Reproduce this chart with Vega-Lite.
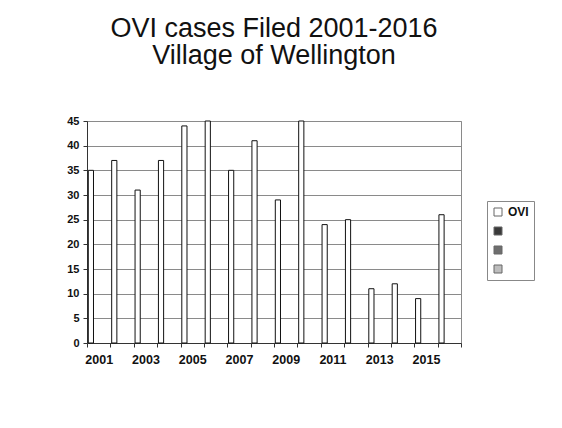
{
  "$schema": "https://vega.github.io/schema/vega-lite/v6.json",
  "width": 374,
  "height": 222,
  "autosize": {"type": "none"},
  "padding": {"left": 87, "top": 121, "right": 101, "bottom": 85},
  "background": "white",
  "title": {
    "text": ["OVI cases Filed 2001-2016", "Village of Wellington"],
    "font": "Liberation Sans",
    "fontSize": 27,
    "fontWeight": "normal",
    "color": "#111",
    "lineHeight": 27,
    "anchor": "middle",
    "frame": "group",
    "offset": 45
  },
  "data": {
    "values": [
      {"year": 2001, "series": "OVI", "cases": 35},
      {"year": 2002, "series": "OVI", "cases": 37},
      {"year": 2003, "series": "OVI", "cases": 31},
      {"year": 2004, "series": "OVI", "cases": 37},
      {"year": 2005, "series": "OVI", "cases": 44},
      {"year": 2006, "series": "OVI", "cases": 45},
      {"year": 2007, "series": "OVI", "cases": 35},
      {"year": 2008, "series": "OVI", "cases": 41},
      {"year": 2009, "series": "OVI", "cases": 29},
      {"year": 2010, "series": "OVI", "cases": 45},
      {"year": 2011, "series": "OVI", "cases": 24},
      {"year": 2012, "series": "OVI", "cases": 25},
      {"year": 2013, "series": "OVI", "cases": 11},
      {"year": 2014, "series": "OVI", "cases": 12},
      {"year": 2015, "series": "OVI", "cases": 9},
      {"year": 2016, "series": "OVI", "cases": 26}
    ]
  },
  "mark": {"type": "bar", "stroke": "#111", "strokeWidth": 1},
  "encoding": {
    "x": {
      "field": "year",
      "type": "ordinal",
      "scale": {"paddingInner": 0, "paddingOuter": 0},
      "axis": {
        "title": null,
        "labelAngle": 0,
        "tickBand": "extent",
        "grid": false,
        "labelExpr": "datum.value % 2 == 1 ? datum.label : ''",
        "labelFont": "Liberation Sans",
        "labelFontSize": 12.5,
        "labelFontWeight": "bold",
        "labelColor": "#111",
        "labelPadding": 6,
        "tickSize": 4,
        "tickColor": "#333",
        "domainColor": "#333"
      }
    },
    "xOffset": {
      "field": "series",
      "type": "nominal",
      "scale": {"domain": ["OVI", "s2", "s3", "s4"], "paddingInner": 0, "paddingOuter": 0.25}
    },
    "y": {
      "field": "cases",
      "type": "quantitative",
      "scale": {"domain": [0, 45], "nice": false},
      "axis": {
        "title": null,
        "values": [0, 5, 10, 15, 20, 25, 30, 35, 40, 45],
        "labelFont": "Liberation Sans",
        "labelFontSize": 11,
        "labelFontWeight": "bold",
        "labelColor": "#111",
        "labelPadding": 4,
        "tickSize": 4,
        "tickColor": "#333",
        "domainColor": "#333",
        "gridColor": "#8a8a8a",
        "gridWidth": 1
      }
    },
    "color": {
      "field": "series",
      "type": "nominal",
      "scale": {"domain": ["OVI", "s2", "s3", "s4"], "range": ["#ffffff", "#3a3a3a", "#6e6e6e", "#bdbdbd"]},
      "legend": {
        "title": null,
        "orient": "none",
        "legendX": 400,
        "legendY": 80,
        "strokeColor": "#888",
        "padding": 5,
        "symbolType": "square",
        "symbolSize": 64,
        "symbolStrokeColor": "#666",
        "symbolStrokeWidth": 1,
        "rowPadding": 7,
        "labelOffset": 4,
        "labelFont": "Liberation Sans",
        "labelFontSize": 12,
        "labelFontWeight": "bold",
        "labelColor": "#111",
        "labelExpr": "datum.label == 'OVI' ? 'OVI' : ''"
      }
    }
  },
  "config": {
    "view": {"stroke": "#8a8a8a", "strokeWidth": 1}
  }
}
